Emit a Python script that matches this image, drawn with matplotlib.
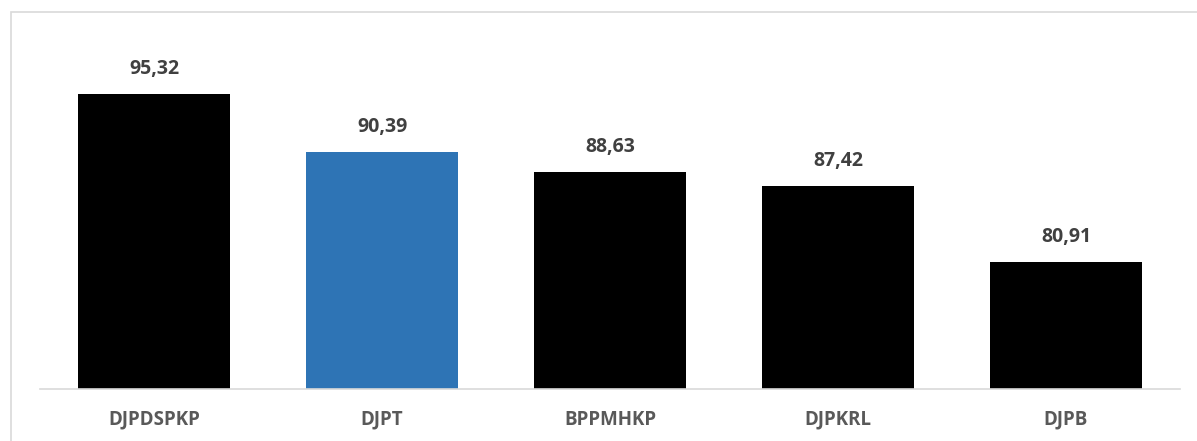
import matplotlib
matplotlib.use("Agg")
import matplotlib.pyplot as plt
from matplotlib.patches import Rectangle

categories = ["DJPDSPKP", "DJPT", "BPPMHKP", "DJPKRL", "DJPB"]
values = [95.32, 90.39, 88.63, 87.42, 80.91]
colors = ["#000000", "#2E74B5", "#000000", "#000000", "#000000"]

W, H = 1197, 441
fig = plt.figure(figsize=(W / 100, H / 100), dpi=100)

# light frame around the chart (right and bottom edges fall outside the image)
fig.patches.append(Rectangle((11 / W, -0.1), 1.2, 1 - 12 / H + 0.1,
                             transform=fig.transFigure, fill=False,
                             edgecolor="#D9D9D9", linewidth=1.2))

ax = fig.add_axes([40 / W, (H - 389) / H, 1140 / W, 349 / H])
x = range(len(categories))
bars = ax.bar(x, values, width=0.667, color=colors, zorder=2)

ax.set_xlim(-0.5, len(categories) - 0.5)
ax.set_ylim(70, 100)

for b, v in zip(bars, values):
    ax.annotate(f"{v:.2f}".replace(".", ","),
                (b.get_x() + b.get_width() / 2, v),
                xytext=(0, 11), textcoords="offset points",
                ha="center", va="bottom", fontsize=14, fontweight="bold",
                family="Open Sans", color="#404040")

ax.set_xticks(list(x))
ax.set_xticklabels(categories, fontsize=13.5, fontweight="bold",
                   family="Open Sans", color="#595959")
ax.tick_params(axis="x", length=0, pad=15)
ax.set_yticks([])

for s in ["top", "right", "left"]:
    ax.spines[s].set_visible(False)
ax.spines["bottom"].set_color("#D9D9D9")
ax.spines["bottom"].set_linewidth(1.2)
ax.spines["bottom"].set_zorder(3)

fig.savefig("out.png", dpi=100)
